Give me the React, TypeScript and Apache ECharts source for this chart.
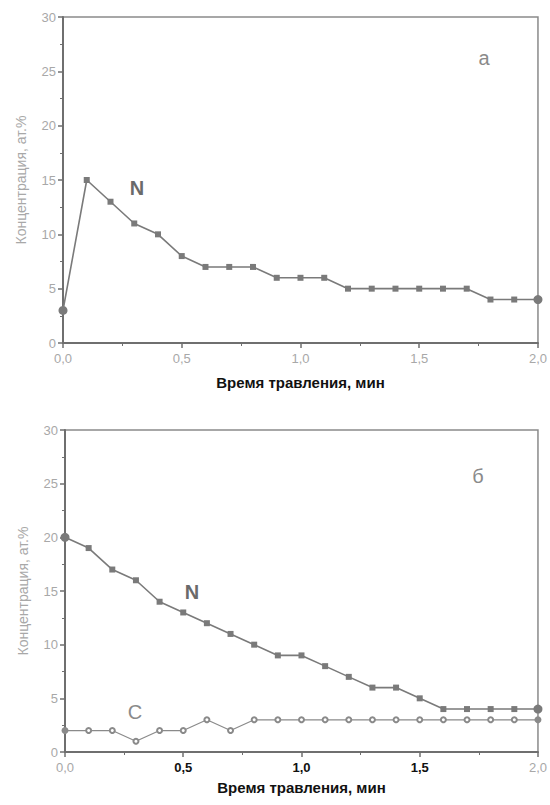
import React, { useEffect, useRef } from "react";
import * as echarts from "echarts";

const timeMin = [0, 0.1, 0.2, 0.3, 0.4, 0.5, 0.6, 0.7, 0.8, 0.9, 1.0, 1.1, 1.2, 1.3, 1.4, 1.5, 1.6, 1.7, 1.8, 1.9, 2.0];
const nitrogenA = [3, 15, 13, 11, 10, 8, 7, 7, 7, 6, 6, 6, 5, 5, 5, 5, 5, 5, 4, 4, 4];
const nitrogenB = [20, 19, 17, 16, 14, 13, 12, 11, 10, 9, 9, 8, 7, 6, 6, 5, 4, 4, 4, 4, 4];
const carbonB = [2, 2, 2, 1, 2, 2, 3, 2, 3, 3, 3, 3, 3, 3, 3, 3, 3, 3, 3, 3, 3];
const xTicks = [0, 0.5, 1.0, 1.5, 2.0];
const yTicks = [0, 5, 10, 15, 20, 25, 30];

const xTitle = "Время травления, мин";
const yTitle = "Концентрация, ат.%";

const FONT = "Liberation Sans";
const AXIS = "#6f6f6f";
const LINE = "#7a7a7a";
const LABEL = "#a8a8a8";

function fmt(v: number) {
  return v.toFixed(1).replace(".", ",");
}

function buildData(values: number[], endSymbol: string, endSize: number) {
  return timeMin.map((t, i) => {
    const item: any = { value: [t, values[i]] };
    if (i === 0 || i === timeMin.length - 1) {
      item.symbol = endSymbol;
      item.symbolSize = endSize;
    }
    return item;
  });
}

export default function App() {
  const ref = useRef<HTMLDivElement>(null);
  useEffect(() => {
    if (!ref.current) return;
    const chart = echarts.init(ref.current, null, { renderer: "svg" });
    const xAxisBase = (gridIndex: number, bottom: boolean) => ({
      type: "value",
      gridIndex,
      min: xTicks[0],
      max: xTicks[xTicks.length - 1],
      interval: 0.5,
      name: xTitle,
      nameLocation: "middle",
      nameGap: bottom ? 28 : 32,
      nameTextStyle: { color: "#111", fontFamily: FONT, fontWeight: "bold", fontSize: 15 },
      axisLine: { show: true, lineStyle: { color: AXIS, width: 2 } },
      axisTick: { show: true, inside: false, length: 5, lineStyle: { color: AXIS, width: 1.5 } },
      minorTick: { show: true, splitNumber: 2, length: 3, lineStyle: { color: AXIS } },
      splitLine: { show: false },
      axisLabel: {
        margin: 9,
        fontFamily: FONT,
        fontSize: 13,
        color: LABEL,
        formatter: bottom
          ? (v: number) => (v > 0 && v < 2 ? "{b|" + fmt(v) + "}" : fmt(v))
          : (v: number) => fmt(v),
        rich: { b: { color: "#111", fontWeight: "bold", fontFamily: FONT, fontSize: 13 } },
      },
    });
    const yAxisBase = (gridIndex: number) => ({
      type: "value",
      gridIndex,
      min: yTicks[0],
      max: yTicks[yTicks.length - 1],
      interval: 5,
      name: yTitle,
      nameLocation: "middle",
      nameGap: 35,
      nameTextStyle: { color: LABEL, fontFamily: FONT, fontSize: 14 },
      axisLine: { show: true, lineStyle: { color: AXIS, width: 2 } },
      axisTick: { show: true, inside: false, length: 5, lineStyle: { color: AXIS, width: 1.5 } },
      minorTick: { show: true, splitNumber: 2, length: 3, lineStyle: { color: AXIS } },
      splitLine: { show: false },
      axisLabel: { margin: 7, fontFamily: FONT, fontSize: 13, color: LABEL },
    });
    const nSeries = (idx: number, values: number[]) => ({
      type: "line",
      xAxisIndex: idx,
      yAxisIndex: idx,
      data: buildData(values, "circle", 9),
      symbol: "rect",
      symbolSize: 6,
      lineStyle: { color: LINE, width: 1.6 },
      itemStyle: { color: LINE },
      clip: false,
    });
    chart.setOption({
      animation: false,
      backgroundColor: "#ffffff",
      textStyle: { fontFamily: FONT },
      grid: [
        { left: 63, right: 12, top: 17, height: 326, show: true, borderColor: "#8a8a8a", borderWidth: 1.5, backgroundColor: "transparent" },
        { left: 65, right: 12, top: 430, height: 322, show: true, borderColor: "#8a8a8a", borderWidth: 1.5, backgroundColor: "transparent" },
      ],
      xAxis: [xAxisBase(0, false), xAxisBase(1, true)],
      yAxis: [yAxisBase(0), yAxisBase(1)],
      series: [
        nSeries(0, nitrogenA),
        nSeries(1, nitrogenB),
        {
          type: "line",
          xAxisIndex: 1,
          yAxisIndex: 1,
          data: buildData(carbonB, "circle", 7),
          symbol: "emptyCircle",
          symbolSize: 5,
          lineStyle: { color: "#8a8a8a", width: 1.2 },
          itemStyle: { color: "#8a8a8a", borderWidth: 1 },
          clip: false,
        },
      ],
      graphic: [
        { type: "text", x: 137, y: 188, style: { text: "N", fill: "#6a6a6a", font: "bold 20px 'Liberation Sans'", textAlign: "center", textVerticalAlign: "middle" } },
        { type: "text", x: 484, y: 58, style: { text: "a", fill: "#8a8a8a", font: "20px 'Liberation Sans'", textAlign: "center", textVerticalAlign: "middle" } },
        { type: "text", x: 192, y: 592, style: { text: "N", fill: "#6a6a6a", font: "bold 20px 'Liberation Sans'", textAlign: "center", textVerticalAlign: "middle" } },
        { type: "text", x: 135, y: 712, style: { text: "C", fill: "#8a8a8a", font: "20px 'Liberation Sans'", textAlign: "center", textVerticalAlign: "middle" } },
        { type: "text", x: 478, y: 476, style: { text: "б", fill: "#8a8a8a", font: "20px 'Liberation Sans'", textAlign: "center", textVerticalAlign: "middle" } },
      ],
    });
    return () => chart.dispose();
  }, []);
  return <div ref={ref} style={{ position: "fixed", left: 0, top: 0, width: 550, height: 805 }} />;
}
